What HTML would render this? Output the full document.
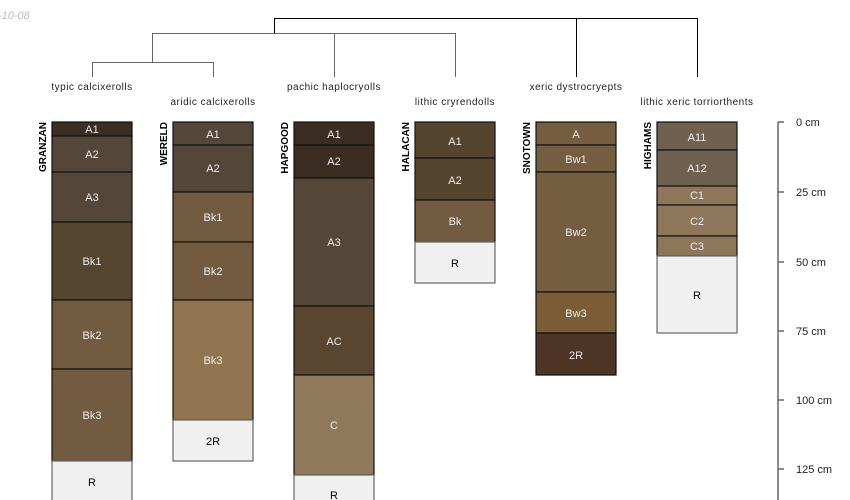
<!DOCTYPE html>
<html><head><meta charset="utf-8"><style>html,body{margin:0;padding:0;background:#fff}svg{display:block}</style></head>
<body>
<svg width="850" height="500" xmlns="http://www.w3.org/2000/svg" font-family="Liberation Sans, sans-serif">
<text x="-2" y="19" font-size="11" font-style="italic" fill="#bbb">-10-08</text>
<g stroke="#000" stroke-width="1" fill="none">
<path d="M274.5 33V18.5H697.5V77M576.5 18.5V77"/>
<path d="M152.5 62V33.5H455.5V77M334.5 33.5V77" stroke="#666"/>
<path d="M92.5 77V62.5H213.5V77" stroke="#666"/>
</g>
<g font-size="10" fill="#222" text-anchor="middle" letter-spacing="0.5">
<text x="92" y="90">typic calcixerolls</text>
<text x="213" y="105">aridic calcixerolls</text>
<text x="334" y="90">pachic haplocryolls</text>
<text x="455" y="105">lithic cryrendolls</text>
<text x="576" y="90">xeric dystrocryepts</text>
<text x="697" y="105">lithic xeric torriorthents</text>
</g>
<g font-size="10" font-weight="bold" fill="#000" text-anchor="end">
<text transform="translate(46,122) rotate(-90)">GRANZAN</text>
<text transform="translate(167,122) rotate(-90)">WERELD</text>
<text transform="translate(288,122) rotate(-90)">HAPGOOD</text>
<text transform="translate(409,122) rotate(-90)">HALACAN</text>
<text transform="translate(530,122) rotate(-90)">SNOTOWN</text>
<text transform="translate(651,122) rotate(-90)">HIGHAMS</text>
</g>
<g stroke="#111" stroke-width="1.2" font-size="11" text-anchor="middle">
<rect x="52" y="122" width="80" height="14" fill="#3b2e22"/>
<rect x="52" y="136" width="80" height="36" fill="#54473a"/>
<rect x="52" y="172" width="80" height="50" fill="#54473a"/>
<rect x="52" y="222" width="80" height="78" fill="#56452f"/>
<rect x="52" y="300" width="80" height="69" fill="#725b40"/>
<rect x="52" y="369" width="80" height="92" fill="#725b40"/>
<rect x="52" y="461" width="80" height="45" fill="#f0f0f0" stroke="#666"/>
<rect x="173" y="122" width="80" height="23" fill="#55463a"/>
<rect x="173" y="145" width="80" height="47" fill="#55463a"/>
<rect x="173" y="192" width="80" height="50" fill="#725b40"/>
<rect x="173" y="242" width="80" height="58" fill="#725b40"/>
<rect x="173" y="300" width="80" height="120" fill="#917551"/>
<rect x="173" y="420" width="80" height="41" fill="#f0f0f0" stroke="#666"/>
<rect x="294" y="122" width="80" height="23" fill="#3b2d21"/>
<rect x="294" y="145" width="80" height="33" fill="#3b2d21"/>
<rect x="294" y="178" width="80" height="128" fill="#564838"/>
<rect x="294" y="306" width="80" height="69" fill="#5a4530"/>
<rect x="294" y="375" width="80" height="100" fill="#8f785b"/>
<rect x="294" y="475" width="80" height="35" fill="#f0f0f0" stroke="#666"/>
<rect x="415" y="122" width="80" height="36" fill="#56452e"/>
<rect x="415" y="158" width="80" height="42" fill="#56452e"/>
<rect x="415" y="200" width="80" height="42" fill="#725c41"/>
<rect x="415" y="242" width="80" height="41" fill="#f0f0f0" stroke="#666"/>
<rect x="536" y="122" width="80" height="23" fill="#755d41"/>
<rect x="536" y="145" width="80" height="27" fill="#755d41"/>
<rect x="536" y="172" width="80" height="120" fill="#755d41"/>
<rect x="536" y="292" width="80" height="41" fill="#7a5c37"/>
<rect x="536" y="333" width="80" height="42" fill="#4d3424"/>
<rect x="657" y="122" width="80" height="28" fill="#706050"/>
<rect x="657" y="150" width="80" height="36" fill="#706050"/>
<rect x="657" y="186" width="80" height="19" fill="#8e765a"/>
<rect x="657" y="205" width="80" height="31" fill="#8e765a"/>
<rect x="657" y="236" width="80" height="20" fill="#8e765a"/>
<rect x="657" y="256" width="80" height="77" fill="#f0f0f0" stroke="#666"/>
</g>
<g font-size="11" fill="#eee" text-anchor="middle">
<text x="92" y="133">A1</text><text x="92" y="158">A2</text><text x="92" y="201">A3</text><text x="92" y="265">Bk1</text><text x="92" y="339">Bk2</text><text x="92" y="419">Bk3</text>
<text x="213" y="138">A1</text><text x="213" y="172">A2</text><text x="213" y="221">Bk1</text><text x="213" y="275">Bk2</text><text x="213" y="364">Bk3</text>
<text x="334" y="138">A1</text><text x="334" y="165">A2</text><text x="334" y="246">A3</text><text x="334" y="345">AC</text><text x="334" y="429">C</text>
<text x="455" y="145">A1</text><text x="455" y="184">A2</text><text x="455" y="225">Bk</text>
<text x="576" y="138">A</text><text x="576" y="163">Bw1</text><text x="576" y="236">Bw2</text><text x="576" y="317">Bw3</text><text x="576" y="359">2R</text>
<text x="697" y="141">A11</text><text x="697" y="172">A12</text><text x="697" y="199">C1</text><text x="697" y="225">C2</text><text x="697" y="250">C3</text>
</g>
<g font-size="11" fill="#000" text-anchor="middle">
<text x="92" y="486">R</text><text x="213" y="445">2R</text><text x="334" y="499">R</text><text x="455" y="267">R</text><text x="697" y="299">R</text>
</g>
<g stroke="#666" stroke-width="1.5">
<path d="M778 122V500M778 122H784M778 192H784M778 262H784M778 331H784M778 400H784M778 469H784"/>
</g>
<g font-size="11" fill="#222">
<text x="796" y="126">0 cm</text><text x="796" y="196">25 cm</text><text x="796" y="266">50 cm</text><text x="796" y="335">75 cm</text><text x="796" y="404">100 cm</text><text x="796" y="473">125 cm</text>
</g>
</svg>
</body></html>
